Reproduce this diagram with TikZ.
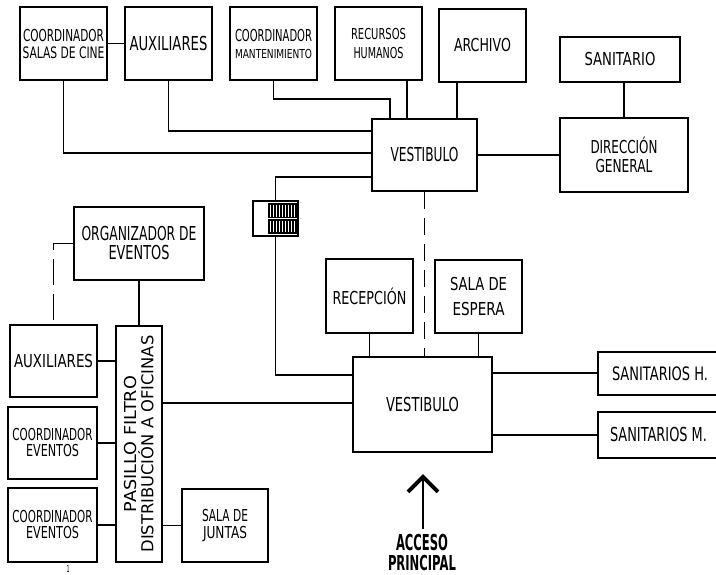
\documentclass[tikz,border=0pt]{standalone}
\usepackage{fontspec}
\setmainfont{DejaVu Sans}
\usetikzlibrary{arrows.meta}
\newsavebox\Wa
\newsavebox\Wb
% \W{width}{cap height}{text}
\newcommand\W[3]{{\sbox\Wa{\fontsize{20}{20}\selectfont #3}\sbox\Wb{\fontsize{20}{20}\selectfont H}%
  \pgfmathsetmacro\Wsx{#1/\the\wd\Wa}\pgfmathsetmacro\Wsy{#2/\the\ht\Wb}%
  \scalebox{\Wsx}[\Wsy]{\usebox\Wa}}}
\tikzset{
  box/.style={draw, line width=1.6pt, inner sep=0pt, align=center},
  conn/.style={line width=1.2pt},
  lh/.style={font=\fontsize{10}{#1}\selectfont},
}
\begin{document}
\begin{tikzpicture}[x=1pt,y=-1pt]
\useasboundingbox (0,0) rectangle (716,574);
% top row
\node[box, minimum width=87pt, minimum height=73pt, lh=17] (cine) at (63.5,43.5) {\W{81}{12}{COORDINADOR}\\\W{82}{11.5}{SALAS DE CINE}};
\node[box, minimum width=87pt, minimum height=73pt] (aux1) at (168.5,43.5) {\W{78}{14}{AUXILIARES}};
\node[box, minimum width=87pt, minimum height=73pt, lh=17] (mant) at (273.5,43.5) {\W{77}{12}{COORDINADOR}\\\W{77}{9}{MANTENIMIENTO}};
\node[box, minimum width=87pt, minimum height=73pt, lh=19] (rh) at (378.5,43.5) {\W{55}{11}{RECURSOS}\\\W{50}{11}{HUMANOS}};
\node[box, minimum width=87pt, minimum height=73pt] (arch) at (482.5,45.5) {\W{57}{13}{ARCHIVO}};
\node[box, minimum width=120pt, minimum height=45pt] (sanit) at (620,59.5) {\W{71}{13}{SANITARIO}};
\node[box, minimum width=105pt, minimum height=72pt] (vest1) at (424.5,155) {\W{68}{14}{VESTIBULO}};
\node[box, minimum width=128pt, minimum height=74pt, lh=19] (dir) at (624,155) {\W{67}{13}{DIRECCIÓN}\\\W{57}{13}{GENERAL}};
% stair symbol
\node[draw, line width=1.4pt, minimum width=45pt, minimum height=35pt, inner sep=0pt] (stair) at (275.5,218.5) {};
\fill (268,203) rectangle (296.5,234);
\foreach \xx in {270,273,...,295} {\draw[white, line width=0.7pt] (\xx,205) -- (\xx,216.5) (\xx,220.5) -- (\xx,232);}
\draw[white, line width=1.6pt] (268,218.5) -- (296.5,218.5);
% left block
\node[box, minimum width=130pt, minimum height=73pt, lh=19] (org) at (139,243.5) {\W{115}{14}{ORGANIZADOR DE}\\\W{61}{14}{EVENTOS}};
\node[box, minimum width=87pt, minimum height=72pt] (aux2) at (53.5,361) {\W{79}{13}{AUXILIARES}};
\node[box, minimum width=46pt, minimum height=236pt] (pas) at (139,444) {};
\node[rotate=90, inner sep=0pt, align=center, lh=17] (pastxt) at (pas.center) {\W{136}{12}{PASILLO FILTRO}\\\W{217}{12}{DISTRIBUCIÓN A OFICINAS}};
\node[box, minimum width=89pt, minimum height=72pt, lh=16] (ce1) at (52.5,443) {\W{80}{12}{COORDINADOR}\\\W{53}{12}{EVENTOS}};
\node[box, minimum width=89pt, minimum height=74pt, lh=16] (ce2) at (52.5,525) {\W{80}{12}{COORDINADOR}\\\W{53}{12}{EVENTOS}};
\node[box, minimum width=86pt, minimum height=73pt, lh=17] (juntas) at (225,525.5) {\W{46}{12}{SALA DE}\\\W{44}{12}{JUNTAS}};
\node[inner sep=0pt] (one) at (68,569) {\W{3}{7}{1}};
% lower center
\node[box, minimum width=87pt, minimum height=74pt] (recep) at (369.5,296) {\W{74}{13}{RECEPCIÓN}};
\node[box, minimum width=87pt, minimum height=73pt, lh=25] (espera) at (478.5,296.5) {\W{57}{13}{SALA DE}\\\W{52}{13}{ESPERA}};
\node[box, minimum width=139pt, minimum height=95pt] (vest2) at (422.5,404.5) {\W{73}{14}{VESTIBULO}};
% open-ended boxes at right edge
\draw[line width=1.6pt] (716,352) -- (598,352) -- (598,395) -- (716,395);
\draw[line width=1.6pt] (716,412) -- (598,412) -- (598,458) -- (716,458);
\node (sanH) at (660,374) {\W{96}{13.5}{SANITARIOS H.}};
\node (sanM) at (658.5,435) {\W{97}{14}{SANITARIOS M.}};
\coordinate (sanHw) at (598,373);
\coordinate (sanMw) at (598,435);
% access
\node[align=center, inner sep=0pt, font=\fontsize{10}{20}\selectfont] (acc) at (422,552) {\W{52}{16}{\bfseries ACCESO}\\\W{68}{15}{\bfseries PRINCIPAL}};
\coordinate (tip) at (423,474);
% helper coordinates
\coordinate (yA) at (0,131);
\coordinate (yB) at (0,153);
\coordinate (yC) at (0,177);
\coordinate (yD) at (0,375);
\coordinate (yE) at (0,403);
\coordinate (mk) at (390,99);
\coordinate (xr) at (407,0);
\coordinate (xa) at (457,0);
% connectors top
\draw[conn] (cine.east) -- (aux1.west);
\draw[conn] (aux1.south) |- (vest1.west |- yA);
\draw[conn] (cine.south) |- (vest1.west |- yB);
\draw[conn] (mant.south) |- (mk) -- (vest1.north -| mk);
\draw[conn] (rh.south -| xr) -- (vest1.north -| xr);
\draw[conn] (arch.south -| xa) -- (vest1.north -| xa);
\draw[conn] (vest1.east) -- (dir.west);
\draw[conn] (sanit.south -| dir.north) -- (dir.north);
\draw[conn] (vest1.west |- yC) -| (stair.north);
\draw[conn] (stair.south) |- (vest2.west |- yD);
\draw[conn, dash pattern=on 17pt off 9pt] (vest1.south) -- (vest2.north -| vest1.south);
% connectors lower
\draw[conn] (recep.south) -- (vest2.north -| recep.south);
\draw[conn] (espera.south) -- (vest2.north -| espera.south);
\draw[conn] (vest2.east |- sanHw) -- (sanHw);
\draw[conn] (vest2.east |- sanMw) -- (sanMw);
\draw[conn] (pas.east |- yE) -- (vest2.west |- yE);
\draw[conn] (org.south) -- (pas.north);
\draw[conn, dash pattern=on 26pt off 9pt] (org.west) -| (aux2.north);
\draw[conn] (aux2.east) -- (pas.west |- aux2.east);
\draw[conn] (ce1.east) -- (pas.west |- ce1.east);
\draw[conn] (ce2.east) -- (pas.west |- ce2.east);
\draw[conn] (pas.east |- juntas.west) -- (juntas.west);
\draw[conn, shorten <=5pt, -{Straight Barb[length=15pt, width=30pt, line width=4pt]}] (acc.north -| tip) -- (tip);
\end{tikzpicture}
\end{document}
